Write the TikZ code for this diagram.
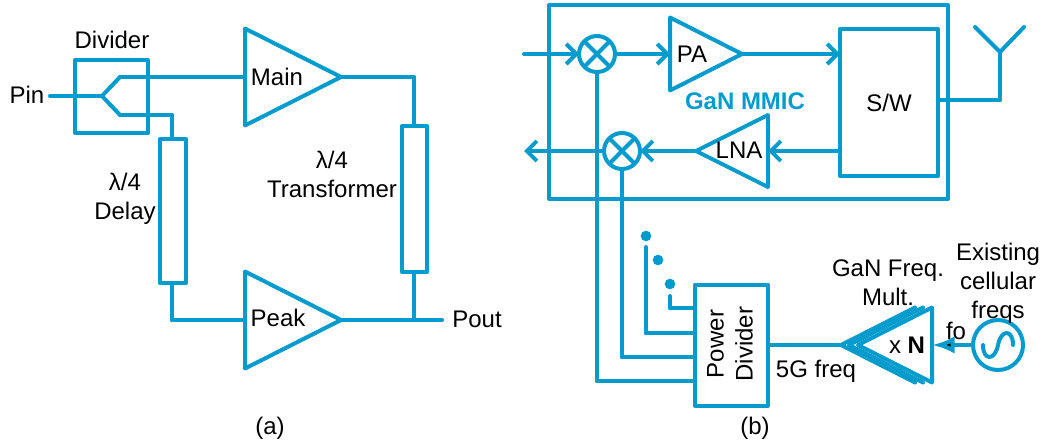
\documentclass[tikz,border=0pt]{standalone}
\usepackage{fontspec}
\setmainfont{Liberation Sans}
\usetikzlibrary{shapes.geometric,arrows.meta}
\definecolor{linkblue}{RGB}{5,156,205}

\begin{document}
\begin{tikzpicture}[x=0.75pt,y=-0.75pt,
  every node/.style={font=\fontsize{18}{21.75}\selectfont,inner sep=0pt,outer sep=0pt,align=center},
  wire/.style={draw=linkblue,line width=3pt,line cap=round,line join=round},
  box node/.style={rectangle,wire},
  amp node/.style={isosceles triangle,isosceles triangle stretches,wire},
  amp ghost/.style={isosceles triangle,isosceles triangle stretches},
  mixer node/.style={circle,wire,minimum size=27pt,path picture={
    \draw[wire] (path picture bounding box.north west) -- (path picture bounding box.south east);
    \draw[wire] (path picture bounding box.north east) -- (path picture bounding box.south west);}},
  dot node/.style={circle,fill=linkblue,minimum size=8pt},
  barb/.style={-{Straight Barb[length=7.5pt,width=15pt,line width=3pt]}},
  solid tip/.style={-{Latex[length=17pt,width=13pt]}}]
  \useasboundingbox (0,0) rectangle (1044,446);

  % (a)
  \node[box node,minimum width=54.75pt,minimum height=54.75pt] (divider) at (111.5,96.5) {};
  \node[box node,minimum width=19.5pt,minimum height=108pt] (delay) at (173,211) {};
  \node[box node,minimum width=18.75pt,minimum height=109.5pt] (trans) at (414.5,199) {};
  \node[amp node,minimum width=72.75pt,minimum height=72pt,anchor=lower side] (main) at (245,77) {};
  \node[amp node,minimum width=72.75pt,minimum height=72pt,anchor=lower side] (peak) at (245,320) {};
  \coordinate (pin) at (50,96);
  \coordinate (fork) at (102,96);
  \coordinate (fork up) at (120,77);
  \coordinate (fork dn) at (120,115);
  \coordinate (delay in) at (172,115);
  \coordinate (delay out) at (172,320);
  \coordinate (trans in) at (414,77);
  \coordinate (trans out) at (414,320);
  \coordinate (pout) at (442,320);
  \path[wire]
  (pin) edge (fork)
  (fork) edge (fork up)
  (fork) edge (fork dn)
  (fork up) edge (main.lower side)
  (fork dn) edge (delay in)
  (delay in) edge (delay.north -| delay in)
  (delay.south -| delay out) edge (delay out)
  (delay out) edge (peak.lower side)
  (main.apex) edge (trans in)
  (trans in) edge (trans.north -| trans in)
  (trans.south -| trans out) edge (trans out)
  (peak.apex) edge (pout);
  \node (pin text) at (27,95) {Pin};
  \node (divider text) at (112,40) {Divider};
  \node (main text) at (277,77) {Main};
  \node (peak text) at (278,318) {Peak};
  \node (delay text) at (125,199) {λ/4\\Delay};
  \node (trans text) at (332,174) {λ/4\\Transformer};
  \node (pout text) at (477,319) {Pout};
  \node (a text) at (270,428) {(a)};

  % (b)
  \node[box node,minimum width=299.25pt,minimum height=145.5pt] (mmic) at (748.5,102) {};
  \node[box node,minimum width=73.5pt,minimum height=110.25pt] (sw) at (889,102.5) {};
  \node[box node,minimum width=54.75pt,minimum height=90.75pt] (power) at (731.5,345) {};
  \node[mixer node] (mix up) at (597,54) {};
  \node[mixer node] (mix dn) at (622,151) {};
  \node[amp node,minimum width=54.75pt,minimum height=54pt,anchor=lower side] (pa) at (670,54) {};
  \node[amp node,shape border rotate=180,minimum width=54pt,minimum height=54pt,anchor=lower side] (lna) at (768,151) {};
  \node[amp ghost,shape border rotate=180,minimum width=56.25pt,minimum height=55.5pt,anchor=lower side] (mult a) at (915,345) {};
  \node[amp ghost,shape border rotate=180,minimum width=56.25pt,minimum height=55.5pt,anchor=lower side] (mult b) at (923,345) {};
  \node[amp node,shape border rotate=180,minimum width=56.25pt,minimum height=55.5pt,anchor=lower side] (mult c) at (932,345) {};
  \node[circle,wire,minimum size=37.5pt] (source) at (998,345) {};
  \node[dot node] (dot a) at (646,236) {};
  \node[dot node] (dot b) at (658,260) {};
  \node[dot node] (dot c) at (670,284) {};
  \coordinate (rx in) at (524,54);
  \coordinate (rx out) at (524,151);
  \coordinate (ant foot) at (1000,100);
  \coordinate (ant mid) at (1000,52);
  \coordinate (ant l) at (975,27);
  \coordinate (ant r) at (1024,27);
  \coordinate (up turn) at (597,381);
  \coordinate (dn turn) at (622,357);
  \coordinate (a turn) at (646,333);
  \coordinate (c turn) at (670,308);
  \coordinate (a top) at (646,247);
  \coordinate (c top) at (670,296);
  \coordinate (sine a) at (983,345);
  \coordinate (sine b) at (1013,345);
  \path[wire]
  (rx in) edge[barb] (mix up.west)
  (mix up.east) edge[barb] (pa.lower side)
  (pa.apex) edge[barb] (sw.west |- pa.apex)
  (sw.west |- lna.lower side) edge[barb] (lna.lower side)
  (lna.apex) edge[barb] (mix dn.east)
  (mix dn.west) edge[barb] (rx out)
  (mix up.south) edge (up turn)
  (up turn) edge (power.west |- up turn)
  (mix dn.south) edge (dn turn)
  (dn turn) edge (power.west |- dn turn)
  (a top) edge (a turn)
  (a turn) edge (power.west |- a turn)
  (c top) edge (c turn)
  (c turn) edge (power.west |- c turn)
  (power.east) edge (mult a.apex)
  (sw.east |- ant foot) edge (ant foot)
  (ant foot) edge (ant mid)
  (ant mid) edge (ant l)
  (ant mid) edge (ant r)
  (source.west) edge[solid tip] (mult c.lower side);
  \draw[wire] (mult a.left corner) -- (mult a.apex) -- (mult a.right corner);
  \draw[wire] (mult b.left corner) -- (mult b.apex) -- (mult b.right corner);
  \draw[wire] (sine a) .. controls (983,361) and (995,361) .. (source.center)
    .. controls (1001,329) and (1013,329) .. (sine b);
  \node[text=linkblue,font=\fontsize{18}{21.75}\selectfont\bfseries] (mmic text) at (745,101) {GaN MMIC};
  \node (pa text) at (692,54) {PA};
  \node (lna text) at (739,150) {LNA};
  \node (sw text) at (889,103) {S/W};
  \node[rotate=90] (power text) at (730,344) {Power\\Divider};
  \node (five text) at (816,371) {5G freq};
  \node (mult text) at (888,283) {GaN Freq.\\Mult.};
  \node (exist text) at (998,283) {Existing\\cellular\\freqs};
  \node (fo text) at (956,331) {fo};
  \node (xn text) at (907,345) {x \textbf{N}};
  \node (b text) at (755,428) {(b)};
\end{tikzpicture}
\end{document}
